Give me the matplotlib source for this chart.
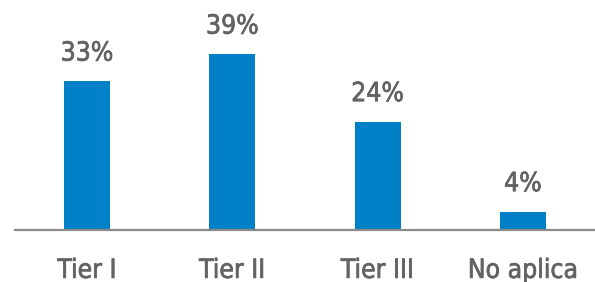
import matplotlib
matplotlib.use("Agg")
import matplotlib.pyplot as plt
import matplotlib.patheffects as pe

categories = ["Tier I", "Tier II", "Tier III", "No aplica"]
values = [33, 39, 24, 4]
value_labels = ["33%", "39%", "24%", "4%"]

BAR_COLOR = "#0080c6"
TEXT_COLOR = "#636363"
LINE_COLOR = "#8a8a8a"

plt.rcParams["font.family"] = ["DejaVu Sans"]
plt.rcParams["font.stretch"] = "condensed"

fig = plt.figure(figsize=(5.95, 2.82), dpi=100)
ax = fig.add_axes([0, 0, 1, 1])

x = list(range(len(categories)))
ax.bar(x, values, width=0.317, color=BAR_COLOR, zorder=2)

# baseline, starting a little in from the left edge
ax.axhline(0, xmin=0.025, xmax=1, color=LINE_COLOR, lw=1.6, zorder=3)

# slightly heavier strokes, the original font is a medium condensed one
heavy = [pe.withStroke(linewidth=0.5, foreground=TEXT_COLOR)]

for i, (v, lab) in enumerate(zip(values, value_labels)):
    ax.annotate(lab, xy=(i, v), xytext=(0, 15), textcoords="offset points",
                ha="center", va="baseline", fontsize=19, color=TEXT_COLOR,
                fontstretch="condensed", path_effects=heavy)
    ax.annotate(categories[i], xy=(i, 0), xytext=(0, -34.5),
                textcoords="offset points", ha="center", va="baseline",
                fontsize=19, color=TEXT_COLOR, fontstretch="condensed",
                path_effects=heavy)

ax.set_xlim(-0.599, 3.496)
ax.set_ylim(-11.56, 51.1)
ax.axis("off")

fig.savefig("out.png", dpi=100, facecolor="white")
